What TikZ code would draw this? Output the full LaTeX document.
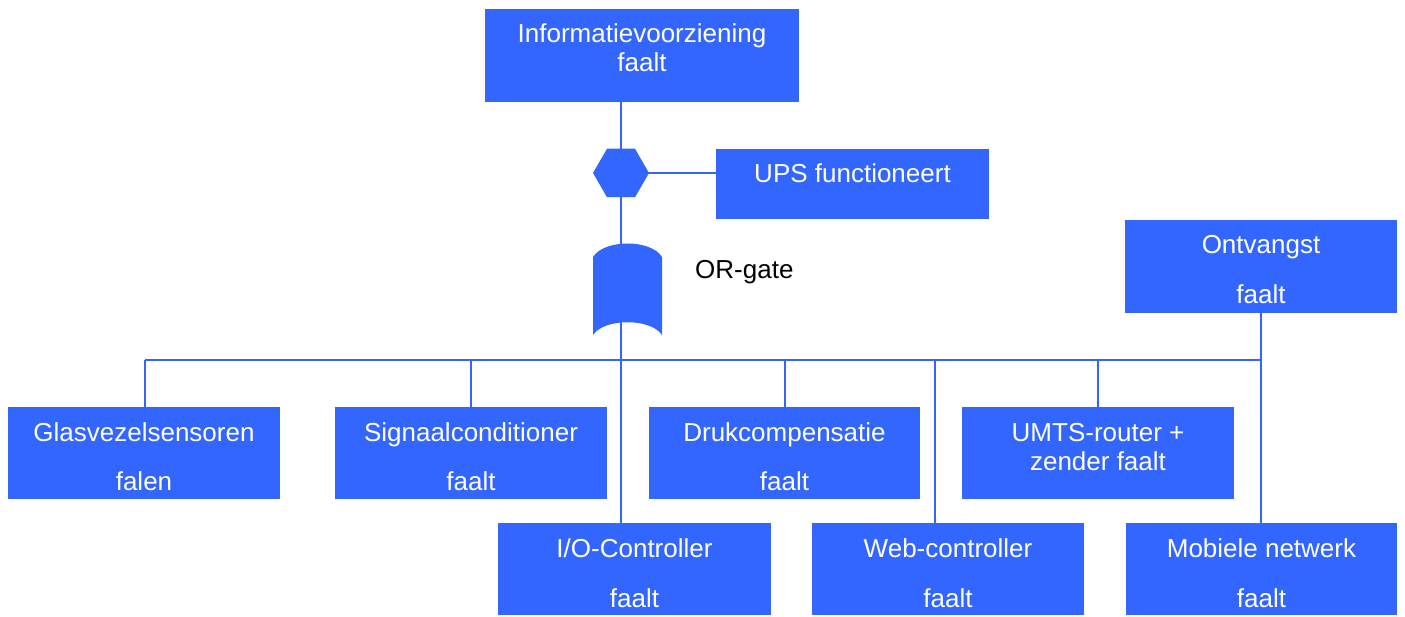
\documentclass[tikz,border=0pt]{standalone}
\usepackage{fontspec}
\setmainfont{Liberation Sans}
\usetikzlibrary{shapes.geometric}
\definecolor{fb}{RGB}{51,102,255}
\begin{document}
\begin{tikzpicture}[x=1pt,y=1pt,
  box/.style={rectangle, fill=fb, inner sep=0pt, outer sep=0pt},
  lbl/.style={text=white, font=\fontsize{26}{30}\selectfont, anchor=base, inner sep=0pt},
  link/.style={draw=fb, line width=2pt},
  gate/.style={fill=fb, draw=none}]
\useasboundingbox (0,0) rectangle (1405,-617);
% boxes
\node[box, minimum width=314, minimum height=93] (top) at (642,-55.5) {};
\node[box, minimum width=273, minimum height=70] (ups) at (852.5,-184) {};
\node[box, minimum width=272, minimum height=93] (ont) at (1261,-266.5) {};
\node[box, minimum width=272, minimum height=92] (gla) at (144,-453) {};
\node[box, minimum width=272, minimum height=92] (sig) at (471,-453) {};
\node[box, minimum width=271, minimum height=92] (dru) at (784.5,-453) {};
\node[box, minimum width=272, minimum height=92] (umt) at (1098,-453) {};
\node[box, minimum width=273, minimum height=92] (io) at (634.5,-569) {};
\node[box, minimum width=272, minimum height=92] (web) at (948,-569) {};
\node[box, minimum width=271, minimum height=92] (mob) at (1261.5,-569) {};
% labels
\node[lbl] (topa) at (642,-43) {Informatievoorziening};
\node[lbl] (topb) at (642,-72) {faalt};
\node[lbl] (upsa) at (852.5,-182.3) {UPS functioneert};
\node[lbl] (onta) at (1261,-253.3) {Ontvangst};
\node[lbl] (ontb) at (1261,-303.3) {faalt};
\node[lbl] (glaa) at (144,-441) {Glasvezelsensoren};
\node[lbl] (glab) at (144,-490) {falen};
\node[lbl] (siga) at (471,-441) {Signaalconditioner};
\node[lbl] (sigb) at (471,-490) {faalt};
\node[lbl] (drua) at (784.5,-441) {Drukcompensatie};
\node[lbl] (drub) at (784.5,-490) {faalt};
\node[lbl] (umta) at (1098,-441) {UMTS-router +};
\node[lbl] (umtb) at (1098,-470) {zender faalt};
\node[lbl] (ioa) at (634.5,-557) {I/O-Controller};
\node[lbl] (iob) at (634.5,-607) {faalt};
\node[lbl] (weba) at (948,-557) {Web-controller};
\node[lbl] (webb) at (948,-607) {faalt};
\node[lbl] (moba) at (1261.5,-557) {Mobiele netwerk};
\node[lbl] (mobb) at (1261.5,-607) {faalt};
\node[anchor=base west, inner sep=0pt, font=\fontsize{26}{30}\selectfont] (orl) at (695,-278.3) {OR-gate};
% connectors
\coordinate (hexc) at (621,-173);
\coordinate (busL) at (145,-360);
\coordinate (webt) at (935,-360);
\draw[link] (hexc |- top.south) -- (hexc |- io.north);
\draw[link] (hexc) -- (hexc -| ups.west);
\draw[link] (busL) -- (ont.south |- busL);
\draw[link] (ont.south) -- (ont.south |- mob.north);
\draw[link] (busL) -- (busL |- gla.north);
\draw[link] (sig.north |- busL) -- (sig.north);
\draw[link] (dru.north |- busL) -- (dru.north);
\draw[link] (umt.north |- busL) -- (umt.north);
\draw[link] (webt) -- (webt |- web.north);
% gates
\node[gate, regular polygon, regular polygon sides=6, minimum size=56pt, inner sep=0pt] (hex) at (hexc) {};
\path[gate] (593,-257) .. controls (604,-239) and (651,-239) .. (662,-257) -- (662,-335) .. controls (651,-318) and (604,-318) .. (593,-335) -- cycle;
\end{tikzpicture}
\end{document}
